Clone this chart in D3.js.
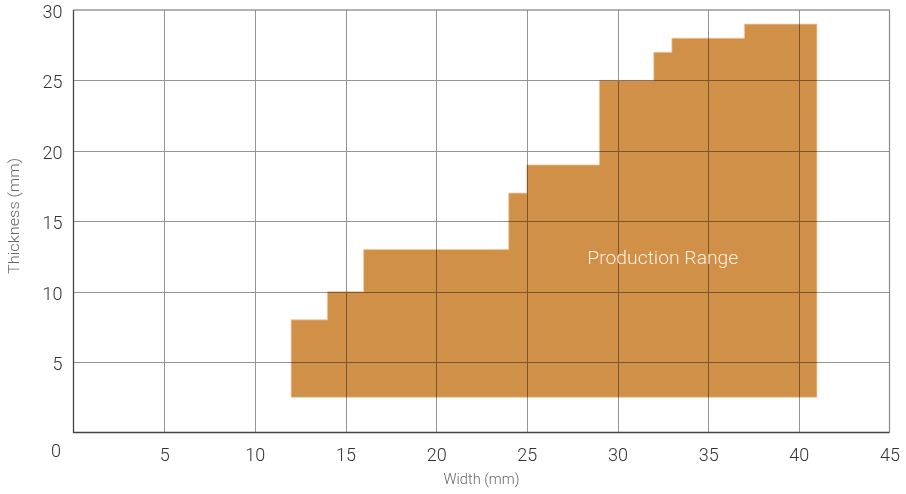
<!DOCTYPE html>
<html><head><meta charset="utf-8">
<script src="https://cdn.jsdelivr.net/npm/d3@7"></script>
<style>
body{margin:0;background:#fff;}
svg{background:#fff;}
text{font-family:Roboto, "Helvetica Neue", Arial, sans-serif;}
</style></head>
<body><svg id="c" width="906" height="494"></svg>
<script>
// Data
const stepWidths = [12, 14, 16, 24, 25, 29, 32, 33, 37, 41]; // x boundaries (mm)
const stepTops = [8, 10, 13, 17, 19, 25, 27, 28, 29];         // thickness top for each segment (mm)
const rangeBottom = [2.5];                                      // min thickness (mm)
const xTicks = [5, 10, 15, 20, 25, 30, 35, 40, 45];
const yTicks = [5, 10, 15, 20, 25, 30];
const zeroLabel = ["0"];
const areaLabel = ["Production Range"];

const svg = d3.select("#c");
const L = 73.5, R = 889.5, T = 10, B = 432.5;
const x = d3.scaleLinear().domain([0, 45]).range([L, R]);
const y = d3.scaleLinear().domain([0, 30]).range([B, T]);

// Build step polygon
const pts = [];
pts.push([stepWidths[0], rangeBottom[0]]);
stepTops.forEach((t, i) => {
  pts.push([stepWidths[i], t]);
  pts.push([stepWidths[i + 1], t]);
});
pts.push([stepWidths[stepWidths.length - 1], rangeBottom[0]]);

svg.append("path")
  .attr("d", d3.line().x(d => x(d[0])).y(d => y(d[1]))(pts) + "Z")
  .attr("fill", "#d09048")
  .attr("stroke", "#ecc9a3")
  .attr("stroke-width", 0.8);

// Gridlines
const g = svg.append("g").style("mix-blend-mode", "multiply");
g.selectAll(".vx").data(xTicks.slice(0, -1)).join("line")
  .attr("x1", d => Math.round(x(d)) + 0.5).attr("x2", d => Math.round(x(d)) + 0.5)
  .attr("y1", T).attr("y2", B)
  .attr("stroke", "#959595").attr("stroke-width", 1);
g.selectAll(".hy").data(yTicks.slice(0, -1)).join("line")
  .attr("y1", d => Math.round(y(d)) + 0.5).attr("y2", d => Math.round(y(d)) + 0.5)
  .attr("x1", L).attr("x2", R)
  .attr("stroke", "#959595").attr("stroke-width", 1);

// Frame
svg.append("line").attr("x1", L).attr("x2", R).attr("y1", T).attr("y2", T).attr("stroke", "#666").attr("stroke-width", 1.2);
svg.append("line").attr("x1", R).attr("x2", R).attr("y1", T).attr("y2", B).attr("stroke", "#888").attr("stroke-width", 1.2);
svg.append("line").attr("x1", L).attr("x2", L).attr("y1", T).attr("y2", B + 0.5).attr("stroke", "#444").attr("stroke-width", 1.3);
svg.append("line").attr("x1", L).attr("x2", R).attr("y1", B).attr("y2", B).attr("stroke", "#444").attr("stroke-width", 1.3);

// Axes labels via d3 axes
const xAxis = svg.append("g").attr("transform", `translate(0,${B})`)
  .call(d3.axisBottom(x).tickValues(xTicks).tickSize(0).tickPadding(12));
const yAxis = svg.append("g").attr("transform", `translate(${L},0)`)
  .call(d3.axisLeft(y).tickValues(yTicks).tickSize(0).tickPadding(11));
[xAxis, yAxis].forEach(a => {
  a.select(".domain").remove();
  a.selectAll("text").attr("font-size", 18).attr("font-weight", 300).attr("fill", "#333")
    .attr("font-family", "Roboto, sans-serif");
});
yAxis.selectAll("text").attr("dy", "0.42em");
xAxis.selectAll("text").attr("dy", "0.9em");

svg.append("text").attr("x", 56).attr("y", 457).attr("text-anchor", "middle")
  .attr("font-size", 18).attr("font-weight", 300).attr("fill", "#333").text(zeroLabel[0]);

// Axis titles
svg.append("text").attr("x", x(22.5) - 0).attr("y", 484).attr("text-anchor", "middle")
  .attr("font-size", 14.5).attr("font-weight", 300).attr("fill", "#666")
  .attr("textLength", 76).attr("lengthAdjust", "spacingAndGlyphs").text("Width (mm)");
svg.append("text").attr("transform", "translate(19,216) rotate(-90)").attr("text-anchor", "middle")
  .attr("font-size", 14.5).attr("font-weight", 300).attr("fill", "#666")
  .attr("textLength", 116).attr("lengthAdjust", "spacingAndGlyphs").text("Thickness (mm)");

// Area label
svg.append("text").attr("x", x(32.5)).attr("y", 264).attr("text-anchor", "middle")
  .attr("font-size", 17.5).attr("font-weight", 300).attr("fill", "#fbf0e4")
  .attr("textLength", 151).attr("lengthAdjust", "spacingAndGlyphs").text(areaLabel[0]);
</script></body></html>
